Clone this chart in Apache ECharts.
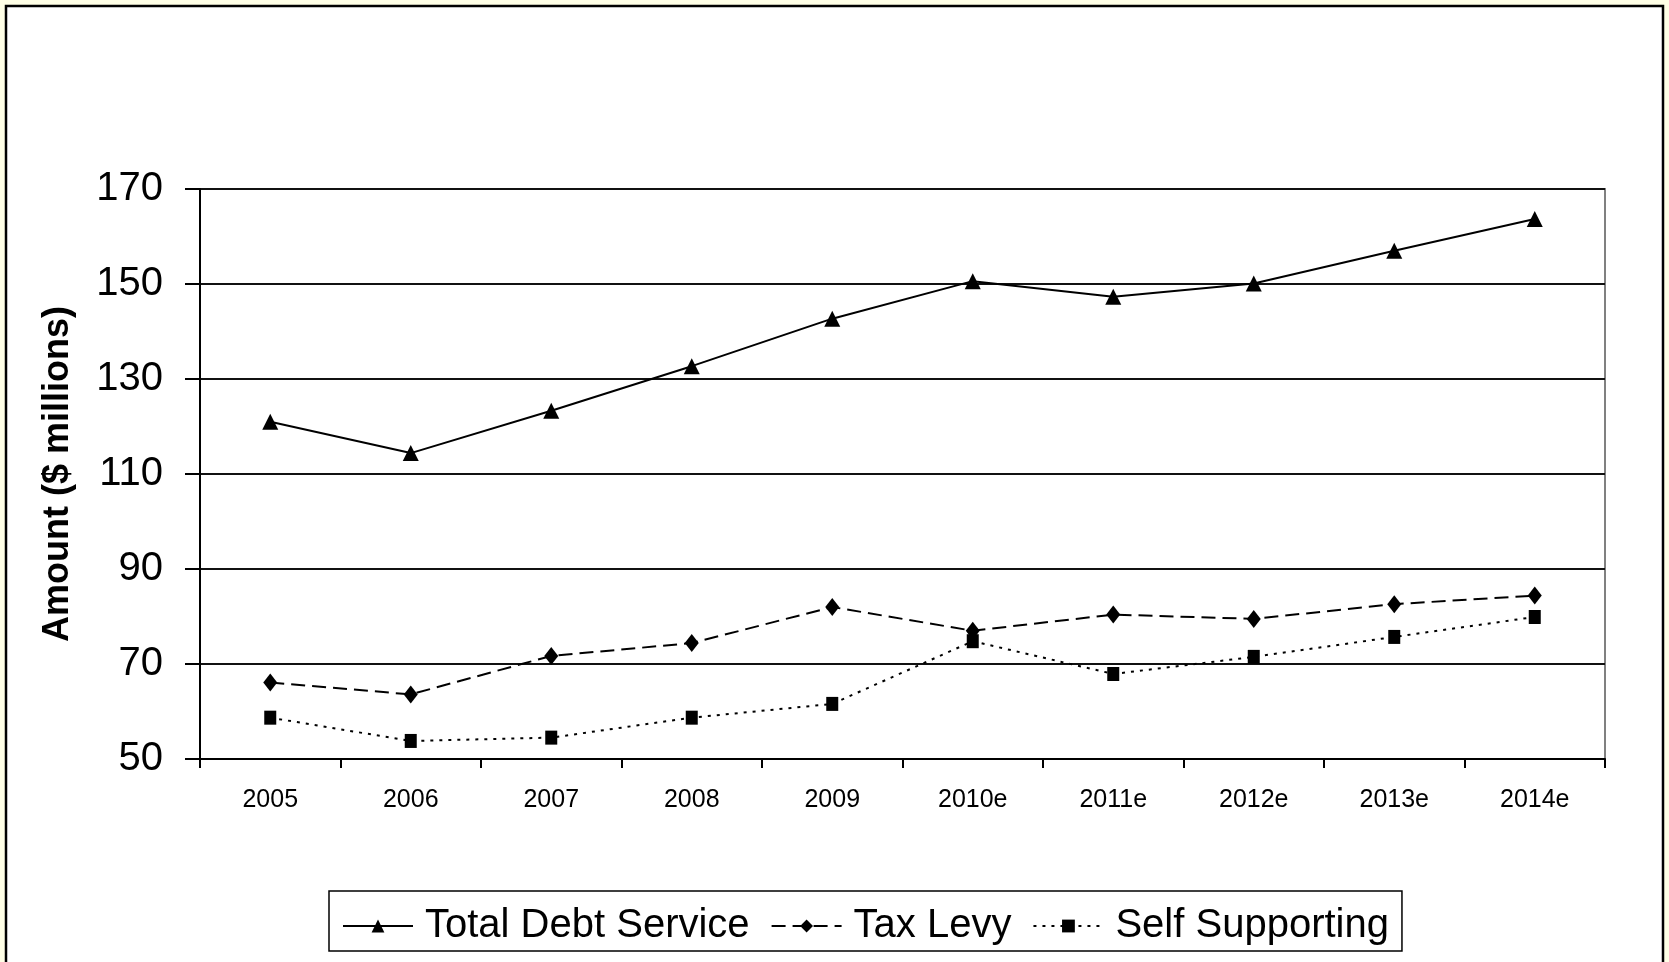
<!DOCTYPE html>
<html>
<head>
<meta charset="utf-8">
<script src="https://cdn.jsdelivr.net/npm/echarts@6/dist/echarts.min.js"></script>
<style>
html, body { margin: 0; padding: 0; background: #FFFFE6; }
#chart { width: 1669px; height: 962px; }
</style>
</head>
<body>
<div id="chart"></div>
<script>
var years = ['2005', '2006', '2007', '2008', '2009', '2010e', '2011e', '2012e', '2013e', '2014e'];
var totalDebt = [121.0, 114.4, 123.3, 132.7, 142.7, 150.6, 147.3, 150.1, 157.0, 163.7];
var taxLevy = [66.1, 63.6, 71.7, 74.4, 82.0, 77.0, 80.4, 79.5, 82.6, 84.4];
var selfSupporting = [58.7, 53.8, 54.5, 58.7, 61.6, 74.8, 67.9, 71.5, 75.7, 79.9];

var font = 'Liberation Sans, Arial, sans-serif';

echarts.init(document.getElementById('chart')).setOption({
	backgroundColor: '#FFFFE6',
	animation: false,
	textStyle: { fontFamily: font, color: '#000' },
	graphic: [{
		type: 'rect',
		z: -10,
		shape: { x: 6, y: 6, width: 1657, height: 980 },
		style: { fill: '#fff', stroke: '#000', lineWidth: 2.5 }
	}],
	grid: {
		left: 200,
		right: 64,
		top: 189,
		bottom: 203,
		show: true,
		backgroundColor: 'transparent',
		borderColor: '#808080',
		borderWidth: 2
	},
	legend: {
		left: 329,
		top: 891,
		orient: 'horizontal',
		padding: [15, 13, 5, 13],
		itemWidth: 70,
		itemHeight: 16,
		itemGap: 21,
		borderColor: '#000',
		borderWidth: 1.5,
		textStyle: { fontSize: 40, fontFamily: font, color: '#000', padding: [4, 0, 0, 7] },
		data: ['Total Debt Service', 'Tax Levy', 'Self Supporting']
	},
	xAxis: {
		type: 'category',
		data: years,
		boundaryGap: true,
		axisLine: { lineStyle: { color: '#000', width: 2 } },
		axisTick: { show: true, length: 9, lineStyle: { color: '#000', width: 2 } },
		axisLabel: { fontSize: 25, margin: 29, color: '#000', fontFamily: font },
		splitLine: { show: false }
	},
	yAxis: {
		type: 'value',
		min: 50,
		max: 170,
		interval: 20,
		name: 'Amount ($ millions)',
		nameLocation: 'middle',
		nameRotate: 90,
		nameGap: 124,
		nameTextStyle: { fontSize: 36, fontWeight: 'bold', fontFamily: font, color: '#000' },
		axisLine: { show: true, lineStyle: { color: '#000', width: 2 } },
		axisTick: { show: true, length: 15, lineStyle: { color: '#000', width: 2 } },
		axisLabel: { fontSize: 40, margin: 37, color: '#000', fontFamily: font },
		splitLine: { show: true, lineStyle: { color: '#111', width: 2 } }
	},
	series: [{
		name: 'Total Debt Service',
		type: 'line',
		data: totalDebt,
		symbol: 'triangle',
		symbolSize: 16,
		itemStyle: { color: '#000' },
		lineStyle: { color: '#000', width: 2, type: 'solid' }
	}, {
		name: 'Tax Levy',
		type: 'line',
		data: taxLevy,
		symbol: 'diamond',
		symbolSize: [14, 18],
		itemStyle: { color: '#000' },
		lineStyle: { color: '#000', width: 2, type: [14, 7] }
	}, {
		name: 'Self Supporting',
		type: 'line',
		data: selfSupporting,
		symbol: 'rect',
		symbolSize: [12, 14],
		itemStyle: { color: '#000' },
		lineStyle: { color: '#000', width: 2, type: [3, 6] }
	}]
});
</script>
</body>
</html>
